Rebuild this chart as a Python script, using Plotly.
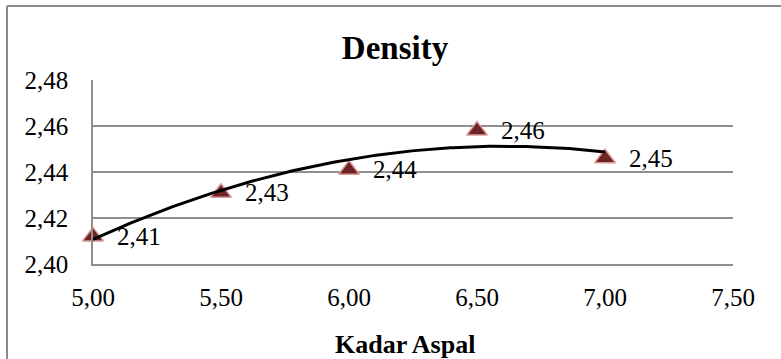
import numpy as np
import plotly.graph_objects as go

# Density vs. asphalt content
kadar_aspal = [5.00, 5.50, 6.00, 6.50, 7.00]
density = [2.412, 2.431, 2.441, 2.458, 2.446]
x_ticks = [5.00, 5.50, 6.00, 6.50, 7.00, 7.50]
y_ticks = [2.40, 2.42, 2.44, 2.46, 2.48]

W, H = 781, 359
M = dict(l=93, r=48, t=80, b=95)
PW = W - M["l"] - M["r"]
PH = H - M["t"] - M["b"]

SERIF = "Liberation Serif, Times New Roman, serif"
GRID = "#8f8f8f"

# second-order polynomial trend line fitted to the measurements
coef = np.polyfit(kadar_aspal, density, 2)
trend_x = np.linspace(min(kadar_aspal), max(kadar_aspal), 200)
trend_y = np.polyval(coef, trend_x)

fig = go.Figure()
fig.add_trace(go.Scatter(
    x=kadar_aspal, y=density,
    mode="markers",
    marker=dict(symbol="triangle-up", size=18, color="#6E2324",
                line=dict(color="#D99A9A", width=1.5)),
    cliponaxis=False,
    showlegend=False,
))
fig.add_trace(go.Scatter(
    x=trend_x, y=trend_y, mode="lines",
    line=dict(color="black", width=3),
    hoverinfo="skip", showlegend=False,
))

# value labels to the right of each marker
for xv, yv in zip(kadar_aspal, density):
    fig.add_annotation(
        x=xv, y=yv, xref="x", yref="y",
        text=f"{yv:.2f}".replace(".", ","),
        showarrow=False, xanchor="left", yanchor="middle", xshift=22,
        font=dict(family=SERIF, size=25, color="black"),
    )

# axis title under the category labels
fig.add_annotation(
    x=(405 - M["l"]) / PW, y=(H - M["b"] - 344) / PH,
    xref="paper", yref="paper", showarrow=False,
    xanchor="center", yanchor="middle",
    text="<b>Kadar Aspal</b>",
    font=dict(family=SERIF, size=26, color="black"),
)

# chart-area frame (left and top edges)
fx = (7 - M["l"]) / PW
fy = (H - M["b"] - 6) / PH
fig.add_shape(type="line", xref="paper", yref="paper",
              x0=fx, x1=fx, y0=-1, y1=fy, line=dict(color="#8a8a8a", width=2))
fig.add_shape(type="line", xref="paper", yref="paper",
              x0=fx, x1=2, y0=fy, y1=fy, line=dict(color="#8a8a8a", width=2))

fig.update_layout(
    width=W, height=H,
    margin=M,
    paper_bgcolor="white", plot_bgcolor="white",
    separators=", ",
    title=dict(text="<b>Density</b>", x=395 / W, xanchor="center",
               y=1 - 47 / H, yanchor="middle",
               font=dict(family=SERIF, size=33, color="black")),
    xaxis=dict(
        range=[5.0, 7.5], tickvals=x_ticks, tickformat=".2f",
        showgrid=False, zeroline=False,
        showline=True, linecolor=GRID, linewidth=1.5,
        ticks="", ticklabelstandoff=10,
        tickfont=dict(family=SERIF, size=25, color="black"),
    ),
    yaxis=dict(
        range=[2.40, 2.48], tickvals=y_ticks, tickformat=".2f",
        showgrid=True, gridcolor=GRID, gridwidth=1.5, zeroline=False,
        showline=True, linecolor=GRID, linewidth=1.5,
        ticks="", ticklabelstandoff=18,
        tickfont=dict(family=SERIF, size=25, color="black"),
    ),
)

fig.write_html("out.html")
